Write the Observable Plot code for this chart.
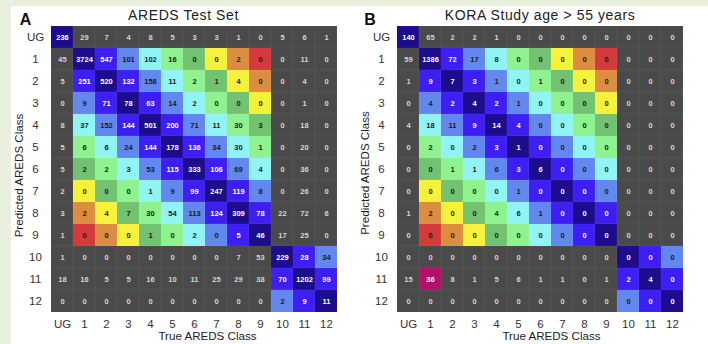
<!DOCTYPE html>
<html><head><meta charset="utf-8">
<script src="https://cdn.jsdelivr.net/npm/d3@7"></script>
<script src="https://cdn.jsdelivr.net/npm/@observablehq/plot@0.6"></script>
<style>
html,body{margin:0;padding:0}
body{background:#e9f1de;width:708px;height:344px;overflow:hidden;position:relative;font-family:"Liberation Sans",Arial,sans-serif}
#panel{position:absolute;left:11px;top:6px;width:697px;height:338px;background:#fff}
#a{position:absolute;left:0;top:0}
#b{position:absolute;left:346px;top:0}
</style></head><body><div id="panel"></div><div id="a"></div><div id="b"></div>
<script>
const classes = ["UG","1","2","3","4","5","6","7","8","9","10","11","12"];

// AREDS Test Set: rows = predicted class, columns = true class
const aredsCounts = [
  [236, 29, 7, 4, 8, 5, 3, 3, 1, 0, 5, 6, 1],
  [45, 3724, 547, 101, 102, 16, 0, 0, 2, 0, 0, 11, 0],
  [5, 251, 520, 132, 158, 11, 2, 1, 4, 0, 0, 4, 0],
  [0, 9, 71, 78, 63, 14, 2, 0, 0, 0, 0, 1, 0],
  [8, 37, 152, 144, 501, 200, 71, 11, 30, 3, 0, 18, 0],
  [5, 6, 6, 24, 144, 178, 136, 34, 30, 1, 0, 20, 0],
  [5, 2, 2, 3, 53, 115, 333, 106, 69, 4, 0, 36, 0],
  [2, 0, 0, 0, 1, 9, 99, 247, 119, 8, 0, 26, 0],
  [3, 2, 4, 7, 30, 54, 113, 124, 309, 78, 22, 72, 6],
  [1, 0, 0, 0, 1, 0, 2, 0, 5, 46, 17, 25, 0],
  [1, 0, 0, 0, 0, 0, 0, 0, 7, 53, 229, 28, 34],
  [18, 16, 5, 5, 16, 10, 11, 25, 29, 38, 70, 1202, 99],
  [0, 0, 0, 0, 0, 0, 0, 0, 0, 0, 2, 9, 11]
];

// KORA Study age > 55 years
const koraCounts = [
  [140, 65, 2, 2, 1, 0, 0, 0, 0, 0, 0, 0, 0],
  [59, 1386, 72, 17, 8, 0, 0, 0, 0, 0, 0, 0, 0],
  [1, 9, 7, 3, 1, 0, 1, 0, 0, 0, 0, 0, 0],
  [0, 4, 2, 4, 2, 1, 0, 0, 0, 0, 0, 0, 0],
  [4, 18, 11, 9, 14, 4, 0, 0, 0, 0, 0, 0, 0],
  [0, 2, 0, 2, 3, 1, 0, 0, 0, 0, 0, 0, 0],
  [0, 0, 1, 1, 6, 3, 6, 0, 0, 0, 0, 0, 0],
  [0, 0, 0, 0, 0, 1, 0, 0, 0, 0, 0, 0, 0],
  [1, 2, 0, 0, 4, 6, 1, 0, 0, 0, 0, 0, 0],
  [0, 0, 0, 0, 0, 0, 0, 0, 0, 0, 0, 0, 0],
  [0, 0, 0, 0, 0, 0, 0, 0, 0, 0, 0, 0, 0],
  [15, 36, 8, 1, 5, 6, 1, 1, 0, 1, 2, 4, 0],
  [0, 0, 0, 0, 0, 0, 0, 0, 0, 0, 0, 0, 0]
];

const aredsHighlights = [];
const koraHighlights = [["11", "1"]]; // [predicted, true]

const toneNames = ["d0","d1","d2","d3","d4","d5","d6","d7","d8","gray","hl"];
const toneColors = ["#1d0c8c","#3e1ff3","#6288ef","#90f4f4","#8ef28e","#72c272","#f6f23c","#dd8d3f","#d43a3a","#4a4a4a","#b3106b"];

function tone(i, j, highlights) {
  if (highlights.some(([r, c]) => r === classes[i] && c === classes[j])) return "hl";
  if (i === 0 && j === 0) return "d0";
  if (i === 0 || j === 0) return "gray";
  if ((i <= 9) !== (j <= 9)) return "gray";
  return "d" + Math.abs(i - j);
}
function cellsOf(counts, highlights) {
  const out = [];
  counts.forEach((row, i) => row.forEach((v, j) => {
    out.push({row: classes[i], col: classes[j], value: v, tone: tone(i, j, highlights)});
  }));
  return out;
}
function textKind(t) {
  if (t === "d0" || t === "d1" || t === "hl") return "white";
  if (t === "gray") return "gray";
  return "dark";
}

function matrix({cells, width, marginRight, title, titleDx, letter, letterDx, ylabDy, xlabDx}) {
  const tx = (kind, fill) => Plot.text(cells.filter(d => textKind(d.tone) === kind),
    {x: "col", y: "row", text: d => String(d.value), fill, fontSize: 7.5, fontWeight: "bold"});
  const svg = Plot.plot({
    width, height: 344, marginLeft: 45, marginRight, marginTop: 24, marginBottom: 31,
    style: {fontFamily: "'Liberation Sans', Arial, sans-serif", color: "#333", background: "transparent"},
    x: {domain: classes, padding: 0, label: null},
    y: {domain: classes, padding: 0, label: null},
    color: {type: "ordinal", domain: toneNames, range: toneColors},
    marks: [
      Plot.cell(cells, {x: "col", y: "row", fill: "tone", stroke: "#ffffff", strokeOpacity: 0.08, strokeWidth: 0.5}),
      tx("white", "#ffffff"),
      tx("gray", "#d6d6d6"),
      tx("dark", "#1a1a1a"),
      Plot.axisX({tickSize: 0, tickPadding: 6, fontSize: 11.5, label: null}),
      Plot.axisY({tickSize: 0, tickPadding: 10, fontSize: 11.5, textAnchor: "middle", label: null}),
      Plot.text([title], {frameAnchor: "top", textAnchor: "middle", lineAnchor: "middle", dx: titleDx, dy: -9, fontSize: 14, fill: "#222"}),
      Plot.text([letter], {frameAnchor: "top-left", textAnchor: "middle", lineAnchor: "middle", dx: letterDx, dy: -5, fontSize: 16, fontWeight: "bold", fill: "#111"}),
      Plot.text(["True AREDS Class"], {frameAnchor: "bottom", textAnchor: "middle", lineAnchor: "middle", dx: xlabDx, dy: 23, fontSize: 11.6, fill: "#222"}),
      Plot.text(["Predicted AREDS Class"], {frameAnchor: "left", textAnchor: "middle", lineAnchor: "middle", rotate: -90, dx: -26, dy: ylabDy, fontSize: 11.6, fill: "#222"})
    ]
  });
  svg.querySelectorAll("text").forEach(t => {
    if (t.textContent === title) t.setAttribute("letter-spacing", "0.6");
  });
  return svg;
}

document.getElementById("a").append(matrix({
  cells: cellsOf(aredsCounts, aredsHighlights), width: 354, marginRight: 11,
  title: "AREDS Test Set", titleDx: -11, letter: "A", letterDx: -20, ylabDy: 6.5, xlabDx: 13
}));
document.getElementById("b").append(matrix({
  cells: cellsOf(koraCounts, koraHighlights), width: 362, marginRight: 20,
  title: "KORA Study age > 55 years", titleDx: 0, letter: "B", letterDx: -21.5, ylabDy: 4, xlabDx: 11.5
}));
</script>
</body></html>
